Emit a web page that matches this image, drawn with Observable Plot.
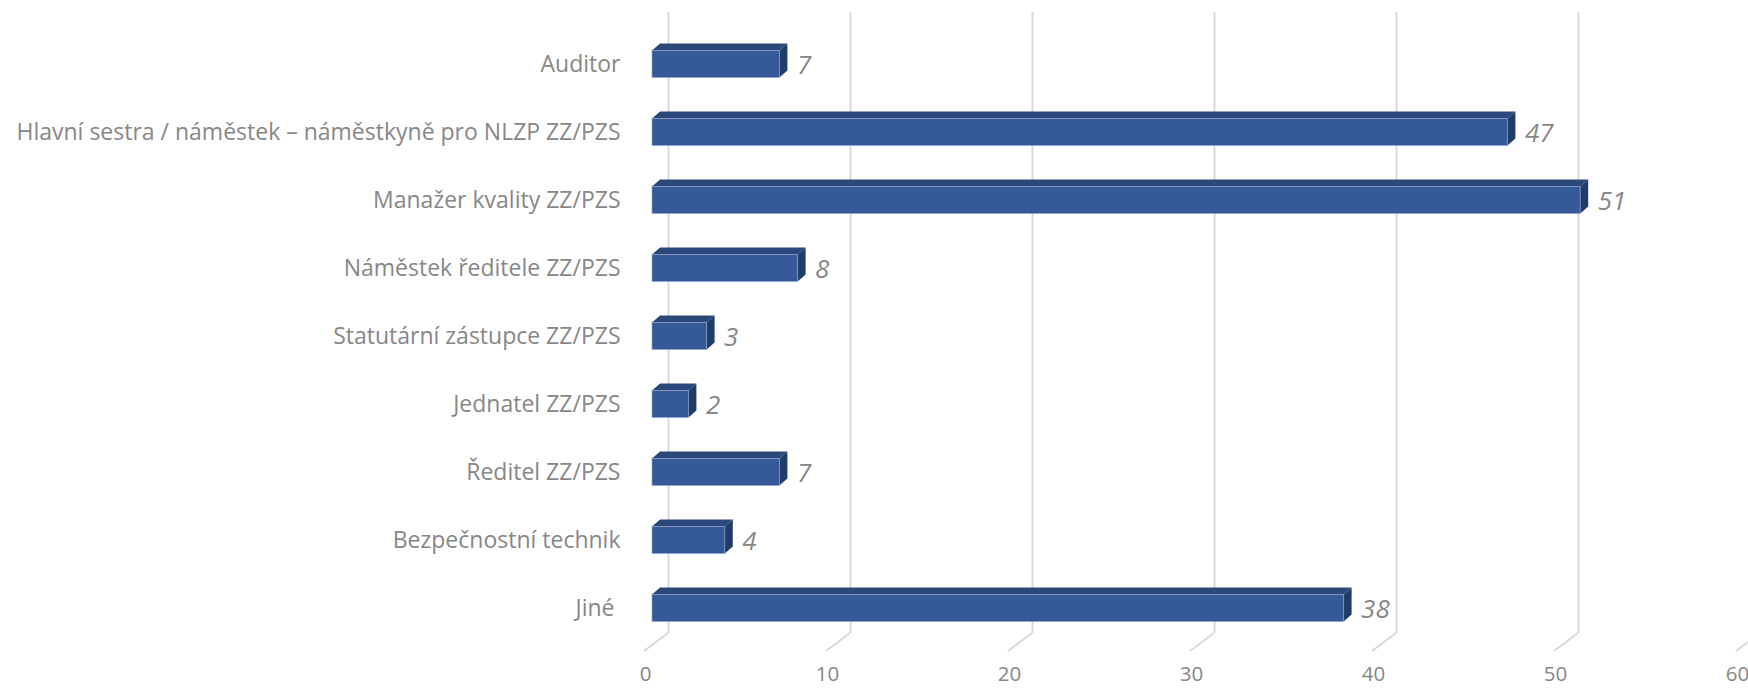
<!DOCTYPE html>
<html>
<head>
<meta charset="utf-8">
<script src="https://cdn.jsdelivr.net/npm/d3@7"></script>
<script src="https://cdn.jsdelivr.net/npm/@observablehq/plot@0.6"></script>
<style>
  html, body { margin: 0; padding: 0; background: #ffffff; }
  #chart svg { display: block; }
  #chart text { white-space: pre; }
</style>
</head>
<body>
<div id="chart"></div>
<script>
const categories = [
  "Auditor",
  "Hlavní sestra / náměstek – náměstkyně pro NLZP ZZ/PZS",
  "Manažer kvality ZZ/PZS",
  "Náměstek ředitele ZZ/PZS",
  "Statutární zástupce ZZ/PZS",
  "Jednatel ZZ/PZS",
  "Ředitel ZZ/PZS",
  "Bezpečnostní technik",
  "Jiné "
];
const values = [7, 47, 51, 8, 3, 2, 7, 4, 38];
const xTicks = [0, 10, 20, 30, 40, 50, 60];

const data = categories.map((c, i) => ({category: c, value: values[i]}));

const FRONT = "#36599A", TOP = "#2A4879", SIDE = "#223C68", EDGE = "#8ea5cf";
const GRID = "#d9d9d9", TEXT = "#878787";
const BAR_H = 27, DEPTH_X = 8, DEPTH_Y = -7;

function floorLines(index, scales, values, dimensions) {
  const x = scales.x;
  const g = d3.create("svg:g");
  const yb = dimensions.height - dimensions.marginBottom;
  for (const t of xTicks) {
    g.append("line")
      .attr("x1", x(t) + 16).attr("y1", yb)
      .attr("x2", x(t) - 8).attr("y2", yb + 18)
      .attr("stroke", GRID).attr("stroke-width", 2);
  }
  return g.node();
}

function bars3d(index, scales) {
  const x = scales.x, y = scales.y;
  const g = d3.create("svg:g");
  const x0 = x(0);
  for (const d of data) {
    const x1 = x(d.value), yc = y(d.category);
    const yt = yc - BAR_H / 2, yb = yc + BAR_H / 2;
    g.append("path")
      .attr("d", `M${x0},${yt}L${x0 + DEPTH_X},${yt + DEPTH_Y}L${x1 + DEPTH_X},${yt + DEPTH_Y}L${x1},${yt}Z`)
      .attr("fill", TOP);
    g.append("path")
      .attr("d", `M${x1},${yt}L${x1 + DEPTH_X},${yt + DEPTH_Y}L${x1 + DEPTH_X},${yb + DEPTH_Y}L${x1},${yb}Z`)
      .attr("fill", SIDE);
    g.append("rect")
      .attr("x", x0).attr("y", yt)
      .attr("width", x1 - x0).attr("height", BAR_H)
      .attr("fill", FRONT)
      .attr("stroke", EDGE).attr("stroke-width", 1).attr("stroke-opacity", 0.6);
  }
  return g.node();
}

const chart = Plot.plot({
  width: 1748,
  height: 688,
  marginLeft: 652,
  marginRight: 4,
  marginTop: 12,
  marginBottom: 55,
  style: {fontFamily: "'Open Sans', sans-serif", background: "#ffffff"},
  x: {domain: [0, 60], axis: null},
  y: {type: "point", domain: categories, range: [60, 611], padding: 0, axis: null},
  marks: [
    Plot.ruleX(xTicks, {x: d => d, dx: 16, stroke: GRID, strokeWidth: 2}),
    floorLines,
    bars3d,
    Plot.text(data, {x: 0, y: "category", text: "category", dx: -32, textAnchor: "end",
      fill: TEXT, fontSize: 23}),
    Plot.text(data, {x: "value", y: "category", text: d => String(d.value),
      dx: 17, dy: 1, textAnchor: "start", fill: TEXT, fontSize: 26, fontStyle: "italic"}),
    Plot.text(xTicks, {x: d => d, text: d => String(d), frameAnchor: "bottom", dy: 47, dx: -7,
      fill: TEXT, fontSize: 20.5})
  ]
});
document.getElementById("chart").appendChild(chart);
</script>
</body>
</html>
